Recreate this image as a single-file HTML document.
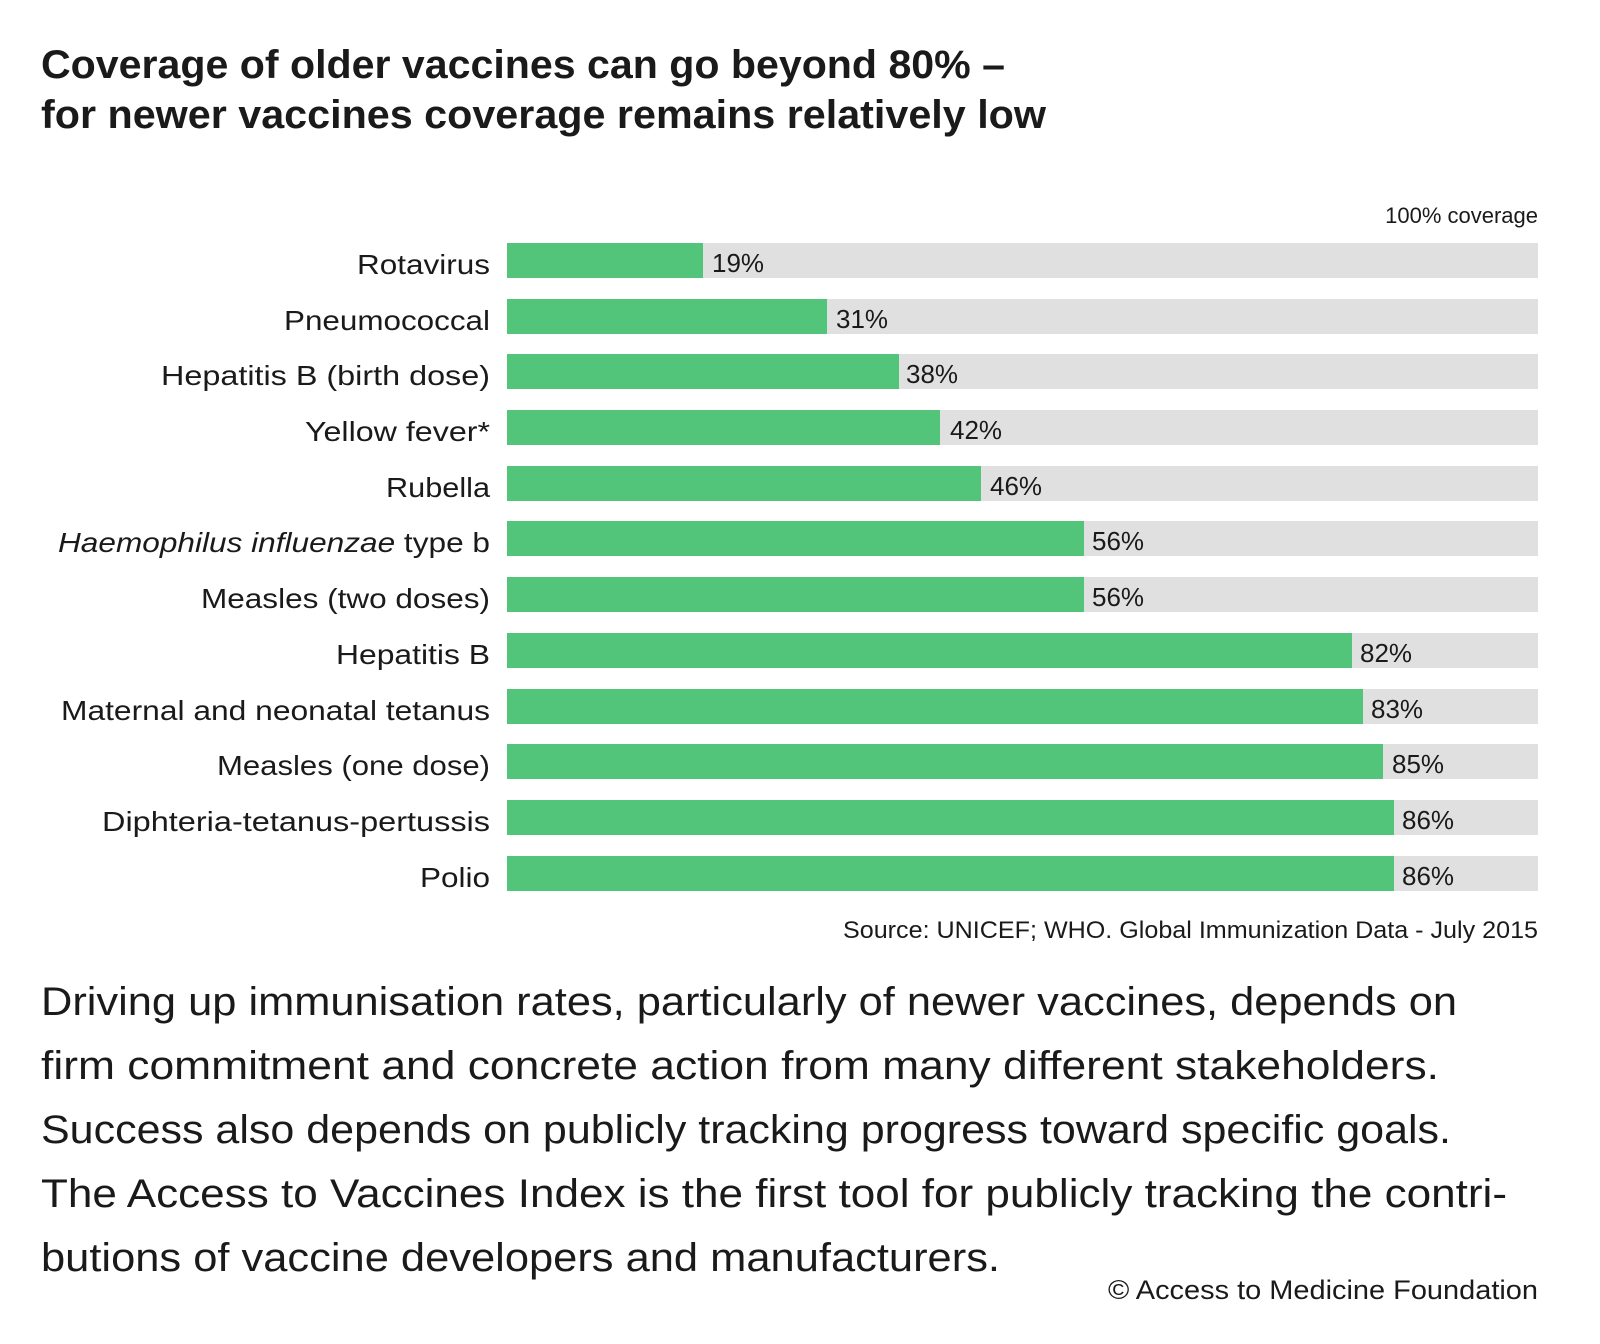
<!DOCTYPE html>
<html><head><meta charset="utf-8"><style>html,body{margin:0;padding:0;background:#fff}svg{display:block}</style></head>
<body>
<svg width="1600" height="1344" viewBox="0 0 1600 1344" xmlns="http://www.w3.org/2000/svg" font-family="Liberation Sans, sans-serif" fill="#1a1a1a">
<text x="41" y="78" font-size="40" font-weight="600" textLength="964" lengthAdjust="spacingAndGlyphs">Coverage of older vaccines can go beyond 80% –</text>
<text x="41" y="128" font-size="40" font-weight="600" textLength="1005" lengthAdjust="spacingAndGlyphs">for newer vaccines coverage remains relatively low</text>
<text x="1538" y="223" font-size="22" text-anchor="end">100% coverage</text>
<text x="1538" y="938" font-size="24" text-anchor="end" textLength="695" lengthAdjust="spacingAndGlyphs">Source: UNICEF; WHO. Global Immunization Data - July 2015</text>
<g font-size="40">
<text x="41" y="1015" textLength="1416" lengthAdjust="spacingAndGlyphs">Driving up immunisation rates, particularly of newer vaccines, depends on</text>
<text x="41" y="1079" textLength="1398" lengthAdjust="spacingAndGlyphs">firm commitment and concrete action from many different stakeholders.</text>
<text x="41" y="1143" textLength="1410" lengthAdjust="spacingAndGlyphs">Success also depends on publicly tracking progress toward specific goals.</text>
<text x="41" y="1207" textLength="1466" lengthAdjust="spacingAndGlyphs">The Access to Vaccines Index is the first tool for publicly tracking the contri-</text>
<text x="41" y="1271" textLength="959" lengthAdjust="spacingAndGlyphs">butions of vaccine developers and manufacturers.</text>
</g>
<text x="1538" y="1299" font-size="27" text-anchor="end" textLength="430" lengthAdjust="spacingAndGlyphs">© Access to Medicine Foundation</text>
<g font-size="28" text-anchor="end" lengthAdjust="spacingAndGlyphs">
<text x="490" y="274" textLength="133" lengthAdjust="spacingAndGlyphs">Rotavirus</text>
<text x="490" y="330" textLength="206" lengthAdjust="spacingAndGlyphs">Pneumococcal</text>
<text x="490" y="385" textLength="329" lengthAdjust="spacingAndGlyphs">Hepatitis B (birth dose)</text>
<text x="490" y="441" textLength="185" lengthAdjust="spacingAndGlyphs">Yellow fever*</text>
<text x="490" y="497" textLength="104" lengthAdjust="spacingAndGlyphs">Rubella</text>
<text x="490" y="552" textLength="432" lengthAdjust="spacingAndGlyphs"><tspan font-style="italic">Haemophilus influenzae</tspan> type b</text>
<text x="490" y="608" textLength="289" lengthAdjust="spacingAndGlyphs">Measles (two doses)</text>
<text x="490" y="664" textLength="154" lengthAdjust="spacingAndGlyphs">Hepatitis B</text>
<text x="490" y="720" textLength="429" lengthAdjust="spacingAndGlyphs">Maternal and neonatal tetanus</text>
<text x="490" y="775" textLength="273" lengthAdjust="spacingAndGlyphs">Measles (one dose)</text>
<text x="490" y="831" textLength="388" lengthAdjust="spacingAndGlyphs">Diphteria-tetanus-pertussis</text>
<text x="490" y="887" textLength="70" lengthAdjust="spacingAndGlyphs">Polio</text>
</g>
<g font-size="26">
<rect x="507" y="243" width="1031" height="35" fill="#e0e0e0"/><rect x="507" y="243" width="196" height="35" fill="#52c57a"/><text x="712" y="272">19%</text>
<rect x="507" y="299" width="1031" height="35" fill="#e0e0e0"/><rect x="507" y="299" width="320" height="35" fill="#52c57a"/><text x="836" y="328">31%</text>
<rect x="507" y="354" width="1031" height="35" fill="#e0e0e0"/><rect x="507" y="354" width="392" height="35" fill="#52c57a"/><text x="906" y="383">38%</text>
<rect x="507" y="410" width="1031" height="35" fill="#e0e0e0"/><rect x="507" y="410" width="433" height="35" fill="#52c57a"/><text x="950" y="439">42%</text>
<rect x="507" y="466" width="1031" height="35" fill="#e0e0e0"/><rect x="507" y="466" width="474" height="35" fill="#52c57a"/><text x="990" y="495">46%</text>
<rect x="507" y="521" width="1031" height="35" fill="#e0e0e0"/><rect x="507" y="521" width="577" height="35" fill="#52c57a"/><text x="1092" y="550">56%</text>
<rect x="507" y="577" width="1031" height="35" fill="#e0e0e0"/><rect x="507" y="577" width="577" height="35" fill="#52c57a"/><text x="1092" y="606">56%</text>
<rect x="507" y="633" width="1031" height="35" fill="#e0e0e0"/><rect x="507" y="633" width="845" height="35" fill="#52c57a"/><text x="1360" y="662">82%</text>
<rect x="507" y="689" width="1031" height="35" fill="#e0e0e0"/><rect x="507" y="689" width="856" height="35" fill="#52c57a"/><text x="1371" y="718">83%</text>
<rect x="507" y="744" width="1031" height="35" fill="#e0e0e0"/><rect x="507" y="744" width="876" height="35" fill="#52c57a"/><text x="1392" y="773">85%</text>
<rect x="507" y="800" width="1031" height="35" fill="#e0e0e0"/><rect x="507" y="800" width="887" height="35" fill="#52c57a"/><text x="1402" y="829">86%</text>
<rect x="507" y="856" width="1031" height="35" fill="#e0e0e0"/><rect x="507" y="856" width="887" height="35" fill="#52c57a"/><text x="1402" y="885">86%</text>
</g>
</svg>
</body></html>
